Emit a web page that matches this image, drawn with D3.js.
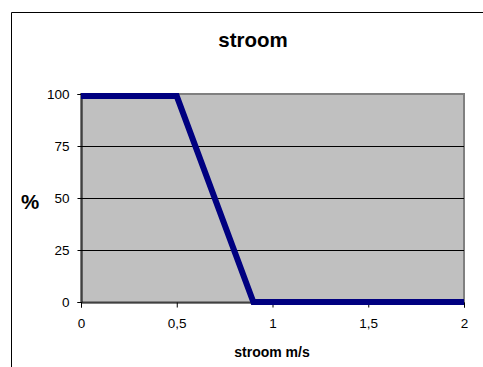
<!DOCTYPE html>
<html>
<head>
<meta charset="utf-8">
<script src="https://cdn.jsdelivr.net/npm/d3@7"></script>
<style>
  html, body { margin: 0; background: #fff; overflow: hidden; }
  svg { display: block; overflow: hidden; font-family: Arial, "Liberation Sans", sans-serif; }
</style>
</head>
<body>
<script>
// data
var xValues = [0, 0.5, 0.9, 2];
var yValues = [99, 99, 0, 0];
var xTicks = [0, 0.5, 1, 1.5, 2];
var yTicks = [0, 25, 50, 75, 100];

var width = 483, height = 367;
var plotLeft = 81, plotRight = 464, plotTop = 94, plotBottom = 302;

var svg = d3.select("body").append("svg")
    .attr("width", width)
    .attr("height", height);

// outer chart border: only left and top edges are inside the picture
svg.append("path")
    .attr("d", "M11.5," + height + "V12.5H" + width)
    .attr("fill", "none")
    .attr("stroke", "#000")
    .attr("stroke-width", 1);

var x = d3.scaleLinear().domain([0, 2]).range([plotLeft, plotRight]);
var y = d3.scaleLinear().domain([0, 100]).range([plotBottom, plotTop]);

// plot area
svg.append("rect")
    .attr("x", x(0)).attr("y", y(100))
    .attr("width", x(2) - x(0)).attr("height", y(0) - y(100))
    .attr("fill", "#c0c0c0")
    .attr("stroke", "#808080")
    .attr("stroke-width", 2);

// gridlines
svg.append("g")
    .selectAll("line")
    .data(yTicks.filter(function(d) { return d > 0 && d < 100; }))
    .enter()
    .append("line")
    .attr("x1", x(0)).attr("x2", x(2))
    .attr("y1", function(d) { return Math.round(y(d)) + 0.5; })
    .attr("y2", function(d) { return Math.round(y(d)) + 0.5; })
    .attr("stroke", "#000")
    .attr("stroke-width", 1);

// axes
var yAxis = svg.append("g")
    .attr("transform", "translate(" + (plotLeft + 0.5) + ",0)")
    .call(d3.axisLeft(y).tickValues(yTicks).tickSize(4).tickPadding(8));

var xAxis = svg.append("g")
    .attr("transform", "translate(0," + (plotBottom + 0.5) + ")")
    .call(d3.axisBottom(x).tickValues(xTicks).tickSize(5).tickPadding(11)
        .tickFormat(function(d) { return String(d).replace(".", ","); }));

[yAxis, xAxis].forEach(function(a) {
    a.select(".domain").attr("stroke", "#000");
    a.selectAll(".tick line").attr("stroke", "#000");
    a.selectAll(".tick text")
        .attr("fill", "#000")
        .style("font-size", "13.5px")
        .style("font-family", "Arial, 'Liberation Sans', sans-serif");
});

// the series
var pts = xValues.map(function(d, i) { return [d, yValues[i]]; });
var line = d3.line()
    .x(function(d) { return x(d[0]); })
    .y(function(d) { return y(d[1]); });

svg.append("path")
    .datum(pts)
    .attr("d", line)
    .attr("fill", "none")
    .attr("stroke", "#000080")
    .attr("stroke-width", 6)
    .attr("stroke-linejoin", "miter");

// titles
svg.append("text")
    .attr("x", 253).attr("y", 47)
    .attr("text-anchor", "middle")
    .style("font-size", "20.5px")
    .style("font-weight", "bold")
    .text("stroom");

svg.append("text")
    .attr("x", 30).attr("y", 209)
    .attr("text-anchor", "middle")
    .style("font-size", "20.5px")
    .style("font-weight", "bold")
    .text("%");

svg.append("text")
    .attr("x", 272).attr("y", 357)
    .attr("text-anchor", "middle")
    .style("font-size", "14px")
    .style("font-weight", "bold")
    .text("stroom m/s");
</script>
</body>
</html>
